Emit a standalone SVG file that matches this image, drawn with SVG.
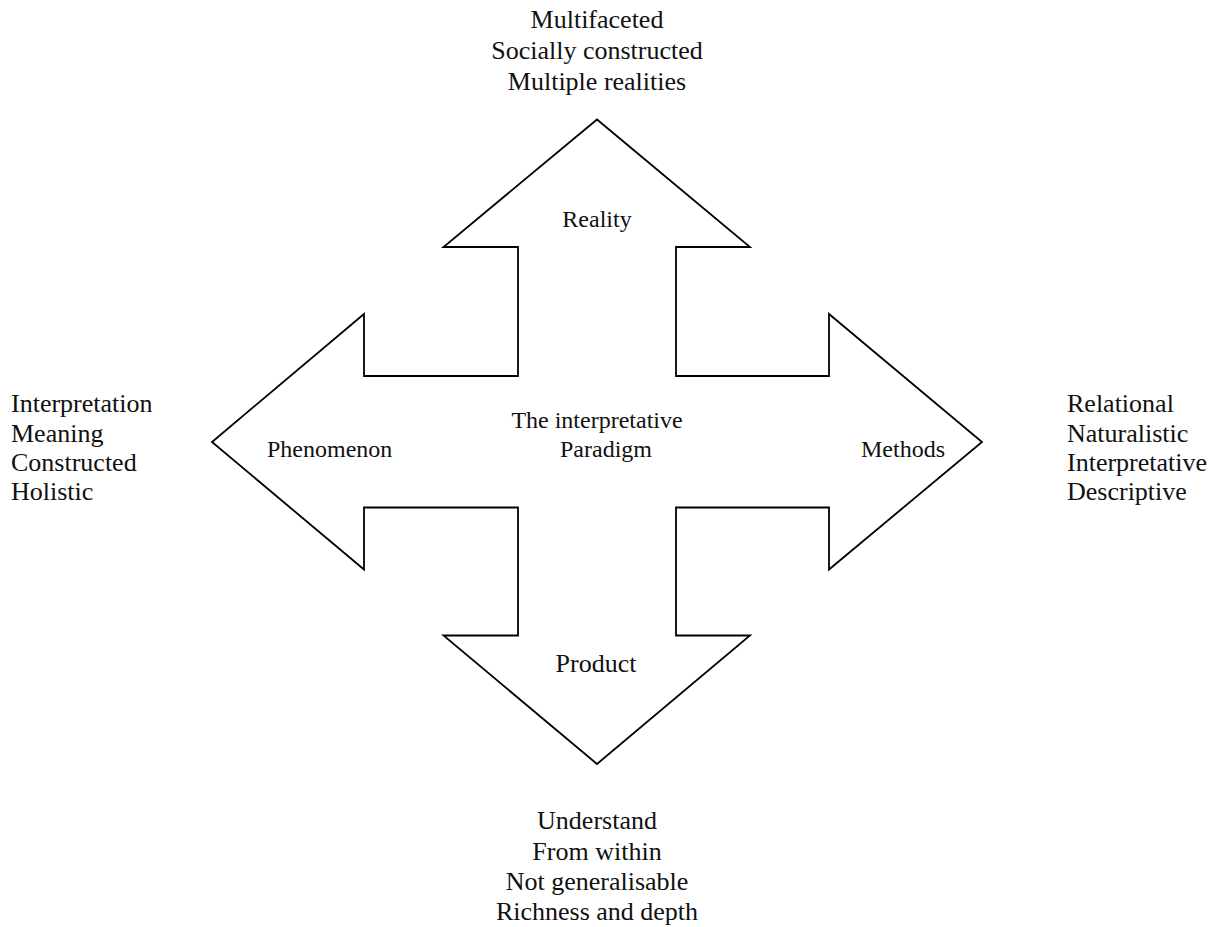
<svg xmlns="http://www.w3.org/2000/svg" width="1222" height="927" viewBox="0 0 1222 927">
<style>
.shape{fill:#ffffff;stroke:#000000;stroke-width:1.8;stroke-linejoin:miter}
.t{font-family:"Liberation Serif","Times New Roman",serif;fill:#111111}
.s24{font-size:24px}
.s26{font-size:26px}
.mid{text-anchor:middle}
</style>
<rect x="0" y="0" width="1222" height="927" fill="#ffffff"/>
<g id="cross-arrow">
<path class="shape" d="M597,119.5 L750,247 L676,247 L676,376 L829,376 L829,314 L982,442 L829,569.5 L829,507.5 L676,507.5 L676,635.5 L750,635.5 L597,764 L443.5,635.5 L518,635.5 L518,507.5 L364,507.5 L364,569.5 L212,442 L364,314 L364,376 L518,376 L518,247 L443.5,247 Z"/>
</g>
<g id="connectors"></g>
<g id="center">
<text class="t s24 mid" x="597" y="428">The interpretative</text>
<text class="t s24 mid" x="606" y="457">Paradigm</text>
</g>
<g id="reality">
<text class="t s24 mid" x="597" y="227">Reality</text>
</g>
<g id="phenomenon">
<text class="t s24" x="267" y="457">Phenomenon</text>
</g>
<g id="methods">
<text class="t s24" x="861" y="457">Methods</text>
</g>
<g id="product">
<text class="t s26 mid" x="596" y="672">Product</text>
</g>
<g id="reality-notes">
<text class="t s26 mid" x="597" y="28">Multifaceted</text>
<text class="t s26 mid" x="597" y="59">Socially constructed</text>
<text class="t s26 mid" x="597" y="90">Multiple realities</text>
</g>
<g id="phenomenon-notes">
<text class="t s26" x="11" y="412">Interpretation</text>
<text class="t s26" x="11" y="441.5">Meaning</text>
<text class="t s26" x="11" y="471">Constructed</text>
<text class="t s26" x="11" y="500">Holistic</text>
</g>
<g id="methods-notes">
<text class="t s26" x="1067" y="412">Relational</text>
<text class="t s26" x="1067" y="441.5">Naturalistic</text>
<text class="t s26" x="1067" y="471">Interpretative</text>
<text class="t s26" x="1067" y="500">Descriptive</text>
</g>
<g id="product-notes">
<text class="t s26 mid" x="597" y="829">Understand</text>
<text class="t s26 mid" x="597" y="860">From within</text>
<text class="t s26 mid" x="597" y="890">Not generalisable</text>
<text class="t s26 mid" x="597" y="920">Richness and depth</text>
</g>
</svg>
